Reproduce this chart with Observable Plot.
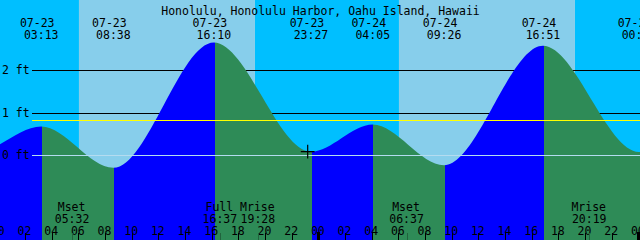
<!DOCTYPE html>
<html>
<head>
<meta charset="utf-8">
<script src="https://cdn.jsdelivr.net/npm/d3@7"></script>
<script src="https://cdn.jsdelivr.net/npm/@observablehq/plot@0.6"></script>
<style>
html, body { margin: 0; padding: 0; overflow: hidden; background: #fff; }
#chart svg { display: block; }
</style>
</head>
<body>
<div id="chart"></div>
<script>
// ---------- data ----------
const title = "Honolulu, Honolulu Harbor, Oahu Island, Hawaii";

// tide extremes (first and last are just outside the visible window)
const extremeTimes   = ["07-22 15:30","07-22 22:12","07-23 03:13","07-23 08:38","07-23 16:10","07-23 23:27","07-24 04:05","07-24 09:26","07-24 16:51","07-25 00:03","07-25 04:45"];
const extremeHeights = [2.70, 0.05, 0.67, -0.30, 2.65, 0.08, 0.72, -0.24, 2.57, 0.07, 0.75];
const extremeLabelled = [false, false, true, true, true, true, true, true, true, true, false];

// daylight / night intervals
const dayStarts   = ["07-23 06:03","07-24 06:03"];
const dayEnds     = ["07-23 19:15","07-24 19:15"];
const nightStarts = ["07-22 19:15","07-23 19:15","07-24 19:15"];
const nightEnds   = ["07-23 06:03","07-24 06:03","07-25 06:03"];

// moon events
const moonNames = ["Mset","Full","Mrise","Mset","Mrise"];
const moonTimes = ["07-23 05:32","07-23 16:37","07-23 19:28","07-24 06:37","07-24 20:19"];

// height reference lines (ft)
const footLevels = [0, 1, 2];
const gridFeet = [1, 2];
const datumLevel = 0;
const meanLevel = 0.82;

// "now" marker
const nowTime = "07-23 23:10";
const nowHeight = 0.09;

// hour tick labels, every 2 hours from 07-23 00:00
const tickStart = "07-23 00:00";
const tickLabels = ["00","02","04","06","08","10","12","14","16","18","20","22",
                    "00","02","04","06","08","10","12","14","16","18","20","22","00"];

// window
const windowStart = "07-23 00:07:39";
const windowEnd   = "07-25 00:07:39";
const feetMin = -2.0, feetMax = 155 / 42.5;

// ---------- styles ----------
const FONT = "DejaVu Sans Mono";
const FS = 11.5;
const DAY = "#87ceeb", NIGHT = "#00bfff", RISE = "#0000ff", FALL = "#2e8b57";
const MEAN = "#ffff00", DATUM = "#b4dcf0", MOONTICK = "#21633d";

// ---------- build ----------
const parse = s => new Date(`2024-${s.replace(" ", "T")}${s.length > 11 ? "" : ":00"}Z`);
const two = n => String(n).padStart(2, "0");
const fmtDate = d => `${two(d.getUTCMonth() + 1)}-${two(d.getUTCDate())}`;
const fmtTime = d => `${two(d.getUTCHours())}:${two(d.getUTCMinutes())}`;

const tide = extremeTimes.map((s, i) => ({t: parse(s), v: extremeHeights[i], show: extremeLabelled[i]}));
const labelled = tide.filter(d => d.show);
const days = dayStarts.map((s, i) => ({start: parse(s), end: parse(dayEnds[i])}));
const nights = nightStarts.map((s, i) => ({start: parse(s), end: parse(nightEnds[i])}));
const moons = moonNames.map((n, i) => ({name: n, t: parse(moonTimes[i])}));
const t0 = parse(tickStart);
const ticks = tickLabels.map((lab, i) => ({label: lab, t: new Date(+t0 + i * 2 * 3600e3)}));
const midnight = ticks.filter(d => d.label === "00");
const regular = ticks.filter(d => d.label !== "00");
const now = {t: parse(nowTime), v: nowHeight};

const txt = {fontFamily: FONT, fontSize: FS, fill: "black", frameAnchor: "top"};

const plot = Plot.plot({
  width: 640,
  height: 240,
  margin: 0,
  x: {type: "utc", domain: [parse(windowStart), parse(windowEnd)], axis: null},
  y: {domain: [feetMin, feetMax], axis: null},
  style: {background: "transparent", fontFamily: FONT, fontSize: FS + "px", color: "black"},
  marks: [
    Plot.rect(nights, {x1: "start", x2: "end", y1: feetMin, y2: feetMax, fill: NIGHT}),
    Plot.rect(days, {x1: "start", x2: "end", y1: feetMin, y2: feetMax, fill: DAY}),
    Plot.ruleY(gridFeet, {y: d => d, stroke: "black", strokeWidth: 1, insetLeft: 32, shapeRendering: "crispEdges"}),
    Plot.areaY(tide, {x: "t", y1: feetMin, y2: "v", curve: "monotone-x", fill: "url(#tideGrad)"}),
    Plot.ruleY([datumLevel], {y: d => d, stroke: DATUM, strokeWidth: 1, insetLeft: 32, shapeRendering: "crispEdges"}),
    Plot.ruleY([meanLevel], {y: d => d, stroke: MEAN, strokeWidth: 1, insetLeft: 32, shapeRendering: "crispEdges"}),
    Plot.text(footLevels, {y: d => d, text: d => `${d} ft`, frameAnchor: "left", textAnchor: "start", dx: 1.5, fontFamily: FONT, fontSize: FS, fill: "black"}),
    Plot.dot([now], {x: "t", y: "v", symbol: "plus", r: 4.5, stroke: "black", strokeWidth: 1.2}),
    // title
    Plot.text([title], {text: d => d, frameAnchor: "top", dy: 6.3, fontFamily: FONT, fontSize: FS, fill: "black"}),
    // extreme labels
    Plot.text(labelled, {...txt, x: "t", text: d => fmtDate(d.t), dy: 18, dx: -4.5}),
    Plot.text(labelled, {...txt, x: "t", text: d => fmtTime(d.t), dy: 30.6, dx: -0.5}),
    // moon labels
    Plot.text(moons, {...txt, x: "t", text: "name", dy: 202.3, dx: -1}),
    Plot.text(moons, {...txt, x: "t", text: d => fmtTime(d.t), dy: 214, dx: -0.5}),
    // hour labels and ticks
    Plot.text(ticks, {...txt, x: "t", text: "label", dy: 226.3, dx: -1}),
    Plot.ruleX(regular, {x: "t", stroke: "black", strokeWidth: 1, insetTop: 233, shapeRendering: "crispEdges"}),
    Plot.ruleX(midnight, {x: "t", stroke: "black", strokeWidth: 3, insetTop: 232, shapeRendering: "crispEdges"}),
    Plot.ruleX(moons, {x: "t", stroke: MOONTICK, strokeWidth: 1, insetTop: 233, shapeRendering: "crispEdges"})
  ]
});

// rising / falling colouring of the tide area, stops placed with the x scale
const xs = plot.scale("x");
const NS = "http://www.w3.org/2000/svg";
const defs = document.createElementNS(NS, "defs");
const grad = document.createElementNS(NS, "linearGradient");
grad.setAttribute("id", "tideGrad");
grad.setAttribute("gradientUnits", "userSpaceOnUse");
grad.setAttribute("x1", "0"); grad.setAttribute("y1", "0");
grad.setAttribute("x2", "640"); grad.setAttribute("y2", "0");
const clamp01 = v => Math.max(0, Math.min(1, v));
for (let i = 0; i < tide.length - 1; i++) {
  const c = tide[i + 1].v > tide[i].v ? RISE : FALL;
  const a = clamp01((xs.apply(tide[i].t) + 0.7) / 640);
  const b = clamp01((xs.apply(tide[i + 1].t) + 0.7) / 640);
  for (const o of [a, b]) {
    const st = document.createElementNS(NS, "stop");
    st.setAttribute("offset", String(o));
    st.setAttribute("stop-color", c);
    grad.appendChild(st);
  }
}
defs.appendChild(grad);
plot.insertBefore(defs, plot.firstChild);

document.getElementById("chart").appendChild(plot);
</script>
</body>
</html>
